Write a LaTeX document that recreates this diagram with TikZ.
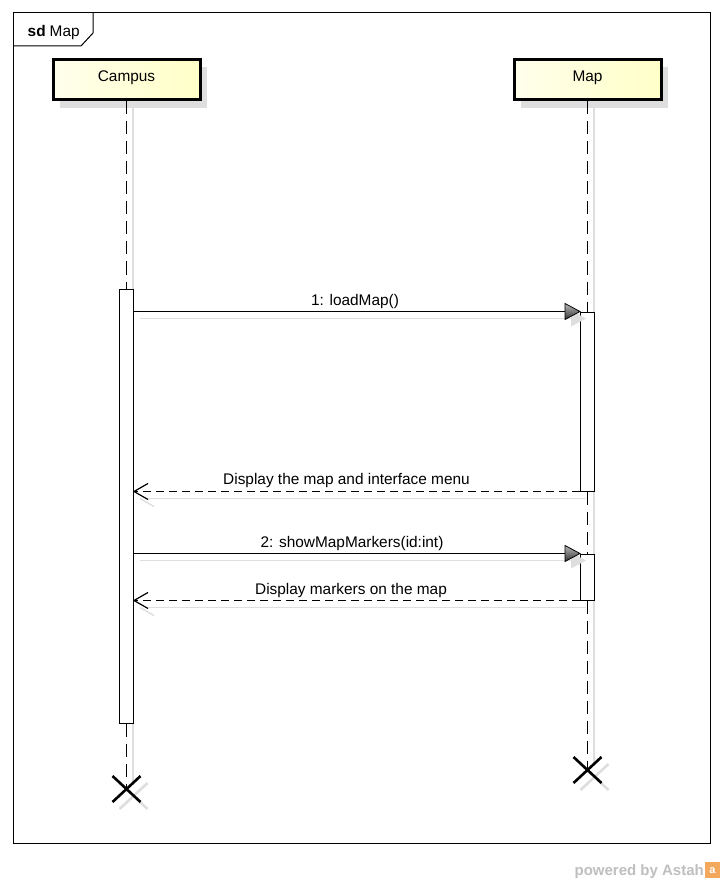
\documentclass[tikz,border=0pt]{standalone}
\usepackage{fontspec}
\setmainfont{Liberation Sans}
\usetikzlibrary{calc}
\definecolor{boxA}{RGB}{255,255,236}
\definecolor{boxB}{RGB}{255,255,200}
\definecolor{shadowc}{RGB}{222,222,222}
\definecolor{astahorange}{RGB}{243,168,92}
\begin{document}
\begin{tikzpicture}[x=1pt,y=-1pt,
  font=\fontsize{15.4}{18}\selectfont,
  frame/.style={draw=black, line width=1pt},
  partbox/.style={draw=black, line width=3pt, left color=boxA, right color=boxB,
    minimum width=147pt, minimum height=40pt, inner sep=0pt, text height=8pt, text depth=4pt},
  partshadow/.style={fill=shadowc},
  lifeline/.style={draw=black, line width=1.4pt, dash pattern=on 13pt off 7pt},
  lifeshadow/.style={draw=shadowc, line width=1.4pt},
  actbox/.style={draw=black, fill=white, line width=1pt, inner sep=0pt, minimum width=14pt},
  msgline/.style={draw=black, line width=1.2pt},
  retline/.style={draw=black, line width=1.2pt, dash pattern=on 8pt off 5pt},
  shadowline/.style={draw=shadowc, line width=1.4pt},
  headfill/.style={draw=black, line width=0.8pt, top color=gray!55, bottom color=black!80},
  headshadow/.style={fill=shadowc},
  openhead/.style={draw=black, line width=1.2pt},
  openshadow/.style={draw=shadowc, line width=1.4pt},
  xmark/.style={draw=black, line width=2.6pt},
  xshadow/.style={draw=shadowc, line width=2.6pt},
  lbl/.style={anchor=base, inner sep=0pt}
]
\useasboundingbox (0,0) rectangle (724,882);
\fill[white] (0,0) rectangle (724,882);

% frame and tab
\draw[frame] (13,13) rectangle (710,843);
\draw[line width=1pt] (13,46) -- (81,46) -- (93,33) -- (93,13);
\node[anchor=base west, inner sep=0pt] (title) at (27.5,37) {\textbf{sd}\kern4pt Map};

% coordinates
\coordinate (xc) at (126.5,789);
\coordinate (xm) at (587.5,770);

% lifeline shadows
\draw[lifeshadow] (133,107) -- (133,783);
\draw[lifeshadow] (594,107) -- (594,763);

% participant shadows and boxes
\fill[partshadow] (59.5,67) rectangle (207,108);
\fill[partshadow] (520.5,67) rectangle (668,108);
\node[partbox] (campus) at (126.5,80) {Campus};
\node[partbox] (map) at (587.5,80) {Map};

% activations
\node[actbox, minimum height=434pt] (actc) at (126.5,506) {};
\node[actbox, minimum height=179pt] (actm1) at (587.5,401.5) {};
\node[actbox, minimum height=46pt] (actm2) at (587.5,577) {};

% lifelines
\draw[lifeline] (campus.south) -- (actc.north);
\draw[lifeline] (actc.south) -- (xc);
\draw[lifeline] (map.south) -- (actm1.north);
\draw[lifeline] (actm1.south) -- (actm2.north);
\draw[lifeline] (actm2.south) -- (xm);

% X shadows and marks
\draw[xshadow] ($(xc)+(-7,20)$) -- ($(xc)+(21,-6)$) ($(xc)+(-7,-6)$) -- ($(xc)+(21,20)$);
\draw[xshadow] ($(xm)+(-7,20)$) -- ($(xm)+(21,-6)$) ($(xm)+(-7,-6)$) -- ($(xm)+(21,20)$);
\draw[xmark] ($(xc)+(-14,-13)$) -- ($(xc)+(14,13)$) ($(xc)+(-14,13)$) -- ($(xc)+(14,-13)$);
\draw[xmark] ($(xm)+(-14,-13)$) -- ($(xm)+(14,13)$) ($(xm)+(-14,13)$) -- ($(xm)+(14,-13)$);

% message shadows
\draw[shadowline] ($(actc.east |- actm1.north)+(6,7)$) -- ($(actm1.north west)+(-9,7)$);
\draw[shadowline] ($(actc.east |- actm1.south)+(14,7)$) -- ($(actm1.south west)+(6,7)$);
\draw[shadowline] ($(actc.east |- actm2.north)+(6,7)$) -- ($(actm2.north west)+(-9,7)$);
\draw[shadowline] ($(actc.east |- actm2.south)+(14,7)$) -- ($(actm2.south west)+(6,7)$);
\fill[headshadow] ($(actm1.north west)+(6,7)$) -- ++(-15,-8) -- ++(0,16) -- cycle;
\fill[headshadow] ($(actm2.north west)+(6,7)$) -- ++(-15,-8) -- ++(0,16) -- cycle;
\draw[openshadow] ($(actc.east |- actm1.south)+(6,7)$) -- ++(14,8);
\draw[openshadow] ($(actc.east |- actm2.south)+(6,7)$) -- ++(14,8);

% messages
\draw[msgline] (actc.east |- actm1.north) -- (actm1.north west);
\path[headfill] (actm1.north west) -- ++(-15,-8) -- ++(0,16) -- cycle;
\draw[retline] (actm1.south west) -- (actc.east |- actm1.south);
\draw[openhead] ($(actc.east |- actm1.south)+(14,-8)$) -- (actc.east |- actm1.south) -- ++(14,8);
\draw[msgline] (actc.east |- actm2.north) -- (actm2.north west);
\path[headfill] (actm2.north west) -- ++(-15,-8) -- ++(0,16) -- cycle;
\draw[retline] (actm2.south west) -- (actc.east |- actm2.south);
\draw[openhead] ($(actc.east |- actm2.south)+(14,-8)$) -- (actc.east |- actm2.south) -- ++(14,8);

% labels
\node[lbl] (l1) at (355,305) {1: loadMap()};
\node[lbl] (l2) at (346.5,484) {Display the map and interface menu};
\node[lbl] (l3) at (352,547) {2: showMapMarkers(id:int)};
\node[lbl] (l4) at (351,594) {Display markers on the map};

% watermark
\node[anchor=base east, inner sep=0pt, text=gray!50, font=\bfseries\fontsize{15}{16}\selectfont] (wm) at (704,875) {powered by Astah};
\fill[astahorange] (705,862) rectangle (720,878);
\node[inner sep=0pt, text=white, font=\bfseries\fontsize{11}{12}\selectfont] (wmi) at (712.5,871) {a};
\end{tikzpicture}
\end{document}
